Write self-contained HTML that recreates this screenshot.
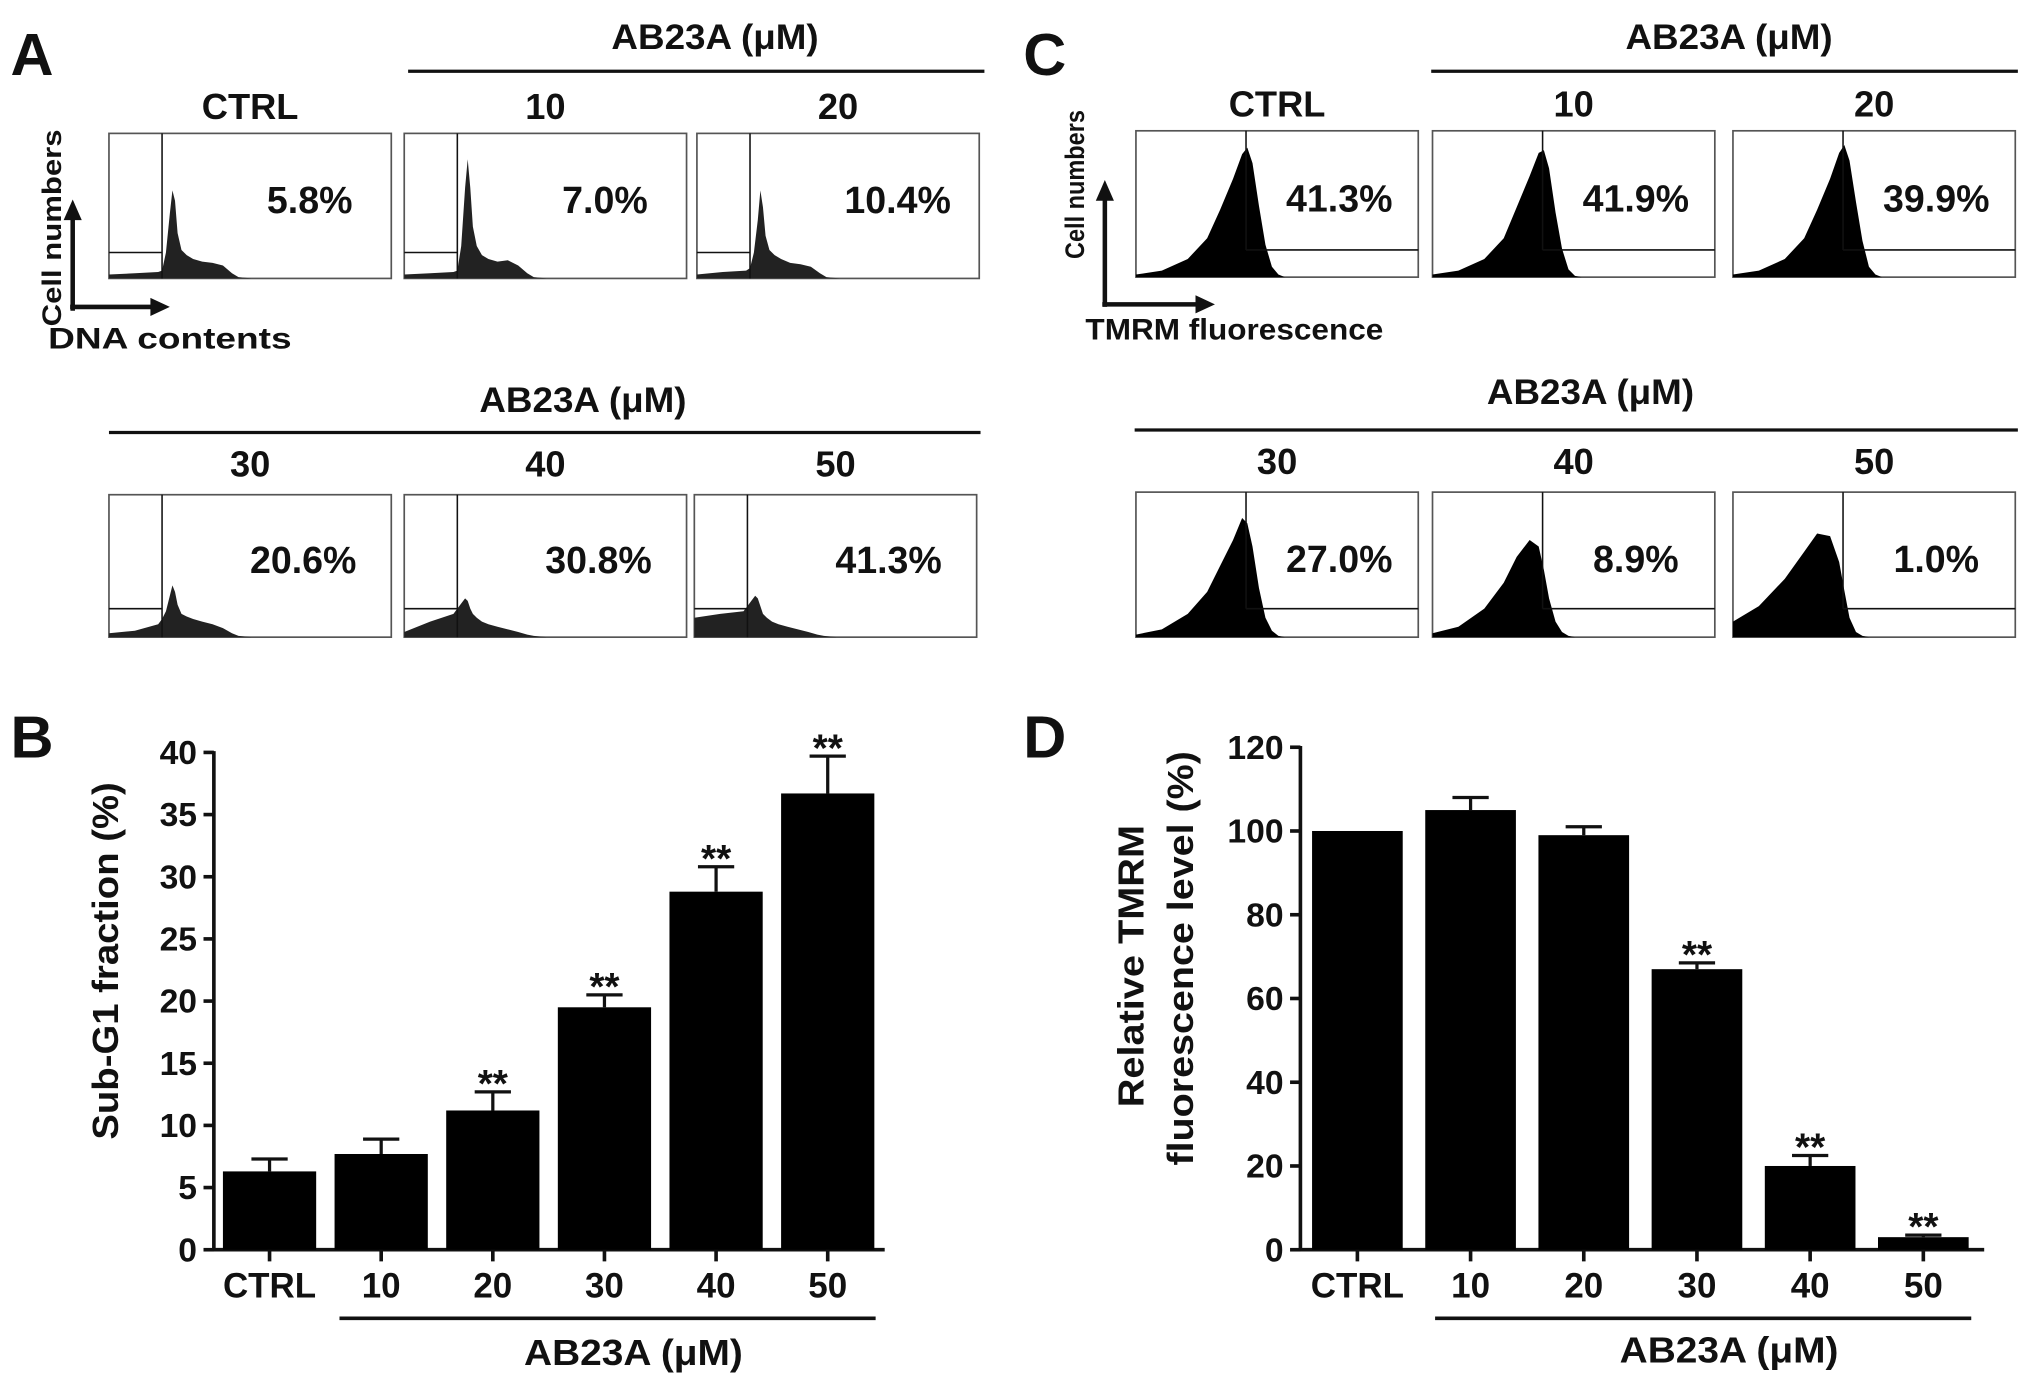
<!DOCTYPE html>
<html><head><meta charset="utf-8"><style>
html,body{margin:0;padding:0;background:#fff}
svg{display:block}
text{font-family:"Liberation Sans",sans-serif;font-weight:bold;fill:#111}
</style></head><body>
<svg id="fig" width="2031" height="1387" viewBox="0 0 1568 1071" xmlns="http://www.w3.org/2000/svg">
<g id="static">
<text x="8" y="58" font-size="46">A</text>
<text x="790" y="58" font-size="46">C</text>
<text x="8" y="585" font-size="46">B</text>
<text x="790" y="585" font-size="46">D</text>
</g>
<g id="dyn"></g>
</svg>
<script>
// ---- Flow histogram data ----
const aLabelsTop=["CTRL","10","20"], aLabelsBot=["30","40","50"];
const aPercents=["5.8%","7.0%","10.4%","20.6%","30.8%","41.3%"];
const aXs=[0,20,38,41,44,47,49,51,53,56,60,65,72,80,88,95,100,110];
const aHist=[
[3,4,5,6,20,50,68,60,35,22,18,15,13,12,10,4,1,0],
[3,4,5,6,25,70,92,70,40,25,18,15,13,14,10,4,1,0],
[3,5,6,8,20,45,68,55,33,22,18,15,12,11,9,4,1,0],
[3,5,10,14,20,32,40,35,25,18,16,14,12,10,7,3,1,0],
[4,12,18,22,26,30,28,22,18,15,12,10,8,6,4,2,1,0],
[15,18,20,24,28,32,30,24,18,15,12,10,8,6,4,2,1,0]];
const cLabelsTop=["CTRL","10","20"], cLabelsBot=["30","40","50"];
const cPercents=["41.3%","41.9%","39.9%","27.0%","8.9%","1.0%"];
const cXs=[0,20,40,55,65,75,82,86,90,95,100,105,110,115];
const cHist=[
[2,5,14,30,52,76,95,100,88,55,25,8,2,0],
[2,5,14,30,54,78,96,98,84,50,22,6,1,0],
[2,5,14,30,52,76,96,102,90,58,28,8,2,0],
[2,6,18,35,55,75,92,88,70,38,15,5,1,0],
[3,8,22,42,62,75,70,52,30,12,4,1,0,0],
[12,24,45,66,80,78,58,36,15,4,1,0,0,0]];
// ---- Bar chart data ----
const bCats=["CTRL","10","20","30","40","50"];
const bVals=[6.3,7.7,11.2,19.5,28.8,36.7];
const bErr=[1.0,1.2,1.5,1.0,2.0,3.0];
const bStars=["","","**","**","**","**"];
const bTicks=[0,5,10,15,20,25,30,35,40];
const dCats=["CTRL","10","20","30","40","50"];
const dVals=[100,105,99,67,20,3];
const dErr=[0,3,2,1.5,2.5,0.5];
const dStars=["","","","**","**","**"];
const dTicks=[0,20,40,60,80,100,120];

const NS="http://www.w3.org/2000/svg";
const g=document.getElementById('dyn');
function el(tag,attrs,parent){const e=document.createElementNS(NS,tag);for(const k in attrs)e.setAttribute(k,attrs[k]);(parent||g).appendChild(e);return e;}
function txt(x,y,s,size,anchor,name,rot,len){const t=el('text',{x:x,y:y,'font-size':size,'text-anchor':anchor||'middle'});if(rot)t.setAttribute('transform','rotate(-90 '+x+' '+y+')');if(len){t.setAttribute('textLength',len);t.setAttribute('lengthAdjust','spacingAndGlyphs');}t.textContent=s;


return t;}
function line(x1,y1,x2,y2,w,name){const l=el('line',{x1:x1,y1:y1,x2:x2,y2:y2,stroke:'#111','stroke-width':w});


return l;}

function histBox(x,y,w,h,xs,hs,gate,gateY,gateSide,pct,pctX,name){
  const r=el('rect',{x:x,y:y,width:w,height:h,fill:'#fff',stroke:'#555','stroke-width':1.3});
  
  
  let d='M'+(x+xs[0])+','+(y+h);
  xs.forEach((v,i)=>{d+=' L'+(x+v)+','+(y+h-hs[i]);});
  d+=' L'+(x+xs[xs.length-1])+','+(y+h)+' Z';
  const p=el('path',{d:d,fill:gateSide==='left'?'#222':'#000'});
  
  
  line(x+gate,y,x+gate,gateSide==='left'?y+h:gateY,1.2,name+'-gate-vertical');
  if(gateSide==='left') line(x,gateY,x+gate,gateY,1.2,name+'-gate-horizontal');
  else line(x+gate,gateY,x+w,gateY,1.2,name+'-gate-horizontal');
  txt(pctX,y+h*0.55,pct,29,'middle',name+'-percent');
}

// Panel A
txt(552,38,"AB23A (μM)",27,'middle','panel-a-top-title',false,160);
line(315,55,760,55,2.5,'panel-a-top-bracket');
const aTopX=[84,312,538], aBotX=[84,312,536];
aLabelsTop.forEach((s,i)=>txt(aTopX[i]+109,92,s,28,'middle','panel-a-label-'+s));
aTopX.forEach((x,i)=>histBox(x,103,218,112,aXs,aHist[i],41,195,'left',aPercents[i],x+155,'panel-a-hist-'+aLabelsTop[i]));
txt(450,318,"AB23A (μM)",27,'middle','panel-a-bottom-title',false,160);
line(84,334,757,334,2.5,'panel-a-bottom-bracket');
aLabelsBot.forEach((s,i)=>txt(aBotX[i]+109,368,s,28,'middle','panel-a-label-'+s));
aBotX.forEach((x,i)=>histBox(x,382,218,110,aXs,aHist[i+3],41,470,'left',aPercents[i+3],x+150,'panel-a-hist-'+aLabelsBot[i]));
line(56,240,56,168,3.5,'panel-a-y-arrow');
el('path',{d:'M49,170 L56,154 L63,170 Z',fill:'#111'});
line(54,237,118,237,3.5,'panel-a-x-arrow');
el('path',{d:'M116,230 L131,237 L116,244 Z',fill:'#111'});
txt(47,252,"Cell numbers",21,'start','panel-a-y-label',true,152);
txt(37,269,"DNA contents",23,'start','panel-a-x-label',false,188);

// Panel C
txt(1335,38,"AB23A (μM)",27,'middle','panel-c-top-title',false,160);
line(1105,55,1558,55,2.5,'panel-c-top-bracket');
const cTopX=[877,1106,1338], cBotX=[877,1106,1338];
cLabelsTop.forEach((s,i)=>txt(cTopX[i]+109,90,s,28,'middle','panel-c-label-'+s));
cTopX.forEach((x,i)=>histBox(x,101,218,113,cXs,cHist[i],85,193,'right',cPercents[i],x+157,'panel-c-hist-'+cLabelsTop[i]));
txt(1228,312,"AB23A (μM)",27,'middle','panel-c-bottom-title',false,160);
line(876,332,1558,332,2.5,'panel-c-bottom-bracket');
cLabelsBot.forEach((s,i)=>txt(cBotX[i]+109,366,s,28,'middle','panel-c-label-'+s));
cBotX.forEach((x,i)=>histBox(x,380,218,112,cXs,cHist[i+3],85,470,'right',cPercents[i+3],x+157,'panel-c-hist-'+cLabelsBot[i]));
line(853,237,853,152,3.5,'panel-c-y-arrow');
el('path',{d:'M846,155 L853,139 L860,155 Z',fill:'#111'});
line(851,235,925,235,3.5,'panel-c-x-arrow');
el('path',{d:'M923,228 L938,235 L923,242 Z',fill:'#111'});
txt(837,200,"Cell numbers",21,'start','panel-c-y-label',true,115);
txt(838,262,"TMRM fluorescence",23,'start','panel-c-x-label',false,230);

// Bar charts
function barChart(o){
  const y=v=>o.y0-(v-o.min)/(o.max-o.min)*(o.y0-o.y1);
  line(o.ax,o.y1-1,o.ax,o.y0+1,2.8,o.name+'-y-axis');
  line(o.ax-1,o.y0,o.xEnd,o.y0,2.8,o.name+'-x-axis');
  o.ticks.forEach(t=>{line(o.ax-8,y(t),o.ax,y(t),2.8,o.name+'-y-tick');txt(o.ax-13,y(t)+9,String(t),26,'end',o.name+'-y-tick-label-'+t);});
  o.cats.forEach((c,i)=>{
    const cx=o.cx0+i*o.step;
    const top=y(o.vals[i]);
    const r=el('rect',{x:cx-o.bw/2,y:top,width:o.bw,height:o.y0-top,fill:'#000'});
    
    
    line(cx,o.y0,cx,o.y0+9,2.8,o.name+'-x-tick-'+c);
    if(o.err[i]>0){const et=y(o.vals[i]+o.err[i]);line(cx,top,cx,et,2.5,o.name+'-error-bar-'+c);line(cx-14,et,cx+14,et,2.5,o.name+'-error-cap-'+c);}
    if(o.stars[i])txt(cx,y(o.vals[i]+o.err[i])+4,o.stars[i],30,'middle',o.name+'-significance-'+c);
    txt(cx,o.y0+37,c,27,'middle',o.name+'-x-label-'+c);
  });
}
barChart({name:'panel-b',ax:165,y0:965,y1:581,min:0,max:40,xEnd:683,cx0:208,step:86.2,bw:72,cats:bCats,vals:bVals,err:bErr,stars:bStars,ticks:bTicks});
line(262,1018,676,1018,2.8,'panel-b-bracket');
txt(489,1054,"AB23A (μM)",28,'middle','panel-b-bracket-title',false,169);
txt(91,742,"Sub-G1 fraction (%)",28,'middle','panel-b-y-title',true,276);
barChart({name:'panel-d',ax:1004,y0:965,y1:577,min:0,max:120,xEnd:1532,cx0:1048,step:87.4,bw:70,cats:dCats,vals:dVals,err:dErr,stars:dStars,ticks:dTicks});
line(1108,1018,1522,1018,2.8,'panel-d-bracket');
txt(1335,1052,"AB23A (μM)",28,'middle','panel-d-bracket-title',false,169);
txt(883,746,"Relative TMRM",28,'middle','panel-d-y-title-line1',true,218);
txt(921,740,"fluorescence level (%)",28,'middle','panel-d-y-title-line2',true,320);
</script>
</body></html>
